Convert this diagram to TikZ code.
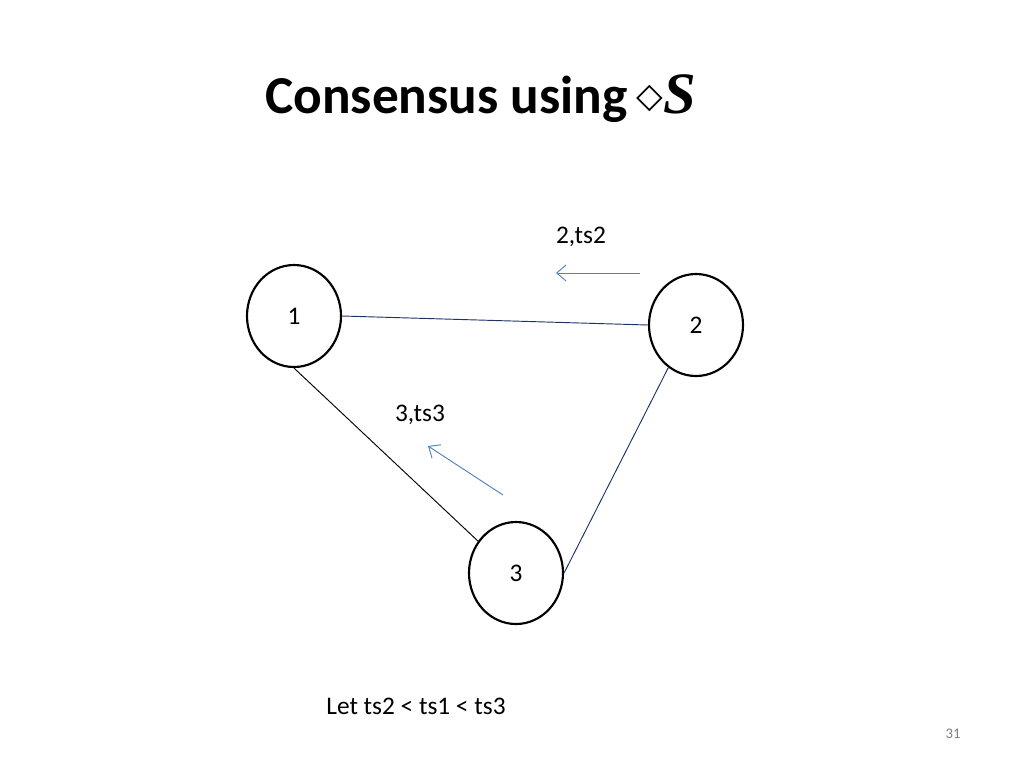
\documentclass[tikz,border=0pt]{standalone}
\usepackage{fontspec}
\setmainfont{Carlito}
\newfontfamily\djv{DejaVu Sans}
\newfontfamily\lser{Liberation Serif}
\usetikzlibrary{shapes.geometric,arrows.meta}
\definecolor{navy}{RGB}{31,50,100}
\definecolor{steel}{RGB}{79,129,189}
\begin{document}
\begin{tikzpicture}[x=0.75pt,y=-0.75pt,
  proc/.style={ellipse,draw,line width=1.6pt,minimum width=70.5pt,minimum height=76.5pt,inner sep=0pt,font=\fontsize{19}{22}\selectfont},
  lbl/.style={font=\fontsize{19}{22}\selectfont,inner sep=0pt},
  edge/.style={draw=navy,line width=0.7pt},
  msg/.style={draw=steel,line width=0.7pt,-{Straight Barb[length=7pt,width=12pt]}}]
\useasboundingbox (0,0) rectangle (1024,768);
\node[inner sep=0pt,anchor=base west] (title) at (265,113) {\fontsize{40}{48}\selectfont\bfseries Consensus using\,{\djv\fontsize{26}{30}\selectfont\raisebox{4pt}{◇}}{\lser\itshape\fontsize{44}{50}\selectfont S}};
\node[proc] (n1) at (294,316) {1};
\node[proc] (n2) at (696,325) {2};
\node[proc] (n3) at (516,573) {3};
\draw[edge] (n1.east) -- (n2.west);
\draw[line width=0.7pt] (n1.south) -- (n3.140);
\draw[edge] (n2.237) -- (n3.east);
\node[lbl] (l2) at (581,237) {2,ts2};
\node[lbl] (l3) at (420,415) {3,ts3};
\coordinate (a1) at (640,273); \coordinate (b1) at (556,273);
\coordinate (a2) at (503,495); \coordinate (b2) at (428,446);
\draw[msg] (a1) -- (b1);
\draw[msg] (a2) -- (b2);
\node[lbl] (let) at (416,706) {Let ts2 {\textless} ts1 {\textless} ts3};
\node[inner sep=0pt,text=gray,font=\fontsize{11}{13}\selectfont] (pg) at (953,734) {31};
\end{tikzpicture}
\end{document}
